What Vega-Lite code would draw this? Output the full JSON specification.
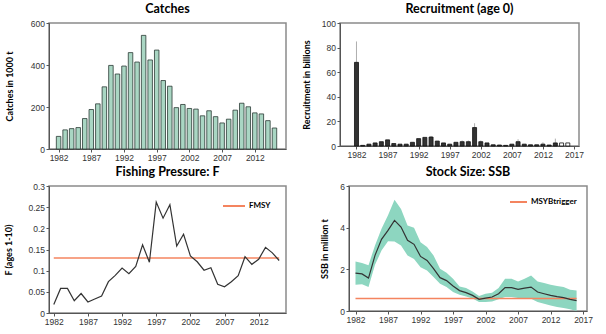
{
  "$schema": "https://vega.github.io/schema/vega-lite/v6.json",
  "padding": {"left": 4, "top": 1, "right": 0, "bottom": 0},
  "background": "white",
  "spacing": 1,
  "resolve": {"scale": {"color": "independent"}, "legend": {"color": "independent"}},
  "config": {
    "view": {"stroke": "#8a8a8a", "strokeWidth": 1.5},
    "title": {"font": "Lato", "fontSize": 12.5, "fontWeight": "bold", "color": "#000", "offset": 0, "anchor": "middle"},
    "axis": {
      "labelFont": "Liberation Sans", "labelFontSize": 8.5, "labelColor": "#333",
      "titleFont": "Lato", "titleFontSize": 9, "titleFontWeight": "bold", "titleColor": "#000",
      "grid": false, "tickSize": 3, "tickColor": "#555", "domainColor": "#555", "labelPadding": 1.5
    },
    "legend": {"labelFont": "Lato", "labelFontWeight": "bold", "labelFontSize": 8, "labelColor": "#000"}
  },
  "datasets": {
    "catches": [
      {"year": 1982, "catch": 60}, {"year": 1983, "catch": 91}, {"year": 1984, "catch": 97}, {"year": 1985, "catch": 102},
      {"year": 1986, "catch": 145}, {"year": 1987, "catch": 188}, {"year": 1988, "catch": 215}, {"year": 1989, "catch": 296},
      {"year": 1990, "catch": 398}, {"year": 1991, "catch": 357}, {"year": 1992, "catch": 395}, {"year": 1993, "catch": 459},
      {"year": 1994, "catch": 414}, {"year": 1995, "catch": 541}, {"year": 1996, "catch": 424}, {"year": 1997, "catch": 471},
      {"year": 1998, "catch": 326}, {"year": 1999, "catch": 299}, {"year": 2000, "catch": 197}, {"year": 2001, "catch": 212},
      {"year": 2002, "catch": 193}, {"year": 2003, "catch": 190}, {"year": 2004, "catch": 158}, {"year": 2005, "catch": 182},
      {"year": 2006, "catch": 154}, {"year": 2007, "catch": 124}, {"year": 2008, "catch": 142}, {"year": 2009, "catch": 185},
      {"year": 2010, "catch": 218}, {"year": 2011, "catch": 201}, {"year": 2012, "catch": 172}, {"year": 2013, "catch": 167},
      {"year": 2014, "catch": 135}, {"year": 2015, "catch": 100}
    ],
    "recruit": [
      {"year": 1982, "rec": 68, "upper": 85, "type": "assessed"},
      {"year": 1983, "rec": 0.5, "type": "assessed"},
      {"year": 1984, "rec": 1.5, "type": "assessed"},
      {"year": 1985, "rec": 2.5, "type": "assessed"},
      {"year": 1986, "rec": 3.5, "type": "assessed"},
      {"year": 1987, "rec": 5, "type": "assessed"},
      {"year": 1988, "rec": 2, "type": "assessed"},
      {"year": 1989, "rec": 1.5, "type": "assessed"},
      {"year": 1990, "rec": 1.5, "type": "assessed"},
      {"year": 1991, "rec": 3, "type": "assessed"},
      {"year": 1992, "rec": 6, "type": "assessed"},
      {"year": 1993, "rec": 7, "type": "assessed"},
      {"year": 1994, "rec": 7.3, "upper": 8.2, "type": "assessed"},
      {"year": 1995, "rec": 4, "type": "assessed"},
      {"year": 1996, "rec": 2.5, "type": "assessed"},
      {"year": 1997, "rec": 1.5, "type": "assessed"},
      {"year": 1998, "rec": 3, "type": "assessed"},
      {"year": 1999, "rec": 3.5, "upper": 4.5, "type": "assessed"},
      {"year": 2000, "rec": 3.5, "upper": 4.5, "type": "assessed"},
      {"year": 2001, "rec": 15, "upper": 18.5, "type": "assessed"},
      {"year": 2002, "rec": 3.5, "upper": 4.5, "type": "assessed"},
      {"year": 2003, "rec": 2.5, "type": "assessed"},
      {"year": 2004, "rec": 1, "type": "assessed"},
      {"year": 2005, "rec": 0.8, "type": "assessed"},
      {"year": 2006, "rec": 0.5, "type": "assessed"},
      {"year": 2007, "rec": 1.5, "type": "assessed"},
      {"year": 2008, "rec": 3.5, "upper": 5.5, "type": "assessed"},
      {"year": 2009, "rec": 1.5, "type": "assessed"},
      {"year": 2010, "rec": 1, "type": "assessed"},
      {"year": 2011, "rec": 1, "type": "assessed"},
      {"year": 2012, "rec": 1.5, "upper": 3, "type": "assessed"},
      {"year": 2013, "rec": 0.8, "type": "assessed"},
      {"year": 2014, "rec": 2.5, "upper": 6, "type": "assessed"},
      {"year": 2015, "rec": 2.5, "type": "assumed"},
      {"year": 2016, "rec": 2.5, "type": "assumed"}
    ],
    "fishing": [
      {"year": 1982, "F": 0.020}, {"year": 1983, "F": 0.058}, {"year": 1984, "F": 0.058}, {"year": 1985, "F": 0.029},
      {"year": 1986, "F": 0.046}, {"year": 1987, "F": 0.026}, {"year": 1988, "F": 0.033}, {"year": 1989, "F": 0.040},
      {"year": 1990, "F": 0.074}, {"year": 1991, "F": 0.089}, {"year": 1992, "F": 0.106}, {"year": 1993, "F": 0.093},
      {"year": 1994, "F": 0.110}, {"year": 1995, "F": 0.161}, {"year": 1996, "F": 0.120}, {"year": 1997, "F": 0.262},
      {"year": 1998, "F": 0.224}, {"year": 1999, "F": 0.256}, {"year": 2000, "F": 0.158}, {"year": 2001, "F": 0.186},
      {"year": 2002, "F": 0.135}, {"year": 2003, "F": 0.121}, {"year": 2004, "F": 0.101}, {"year": 2005, "F": 0.107},
      {"year": 2006, "F": 0.068}, {"year": 2007, "F": 0.062}, {"year": 2008, "F": 0.074}, {"year": 2009, "F": 0.088},
      {"year": 2010, "F": 0.133}, {"year": 2011, "F": 0.115}, {"year": 2012, "F": 0.127}, {"year": 2013, "F": 0.155},
      {"year": 2014, "F": 0.142}, {"year": 2015, "F": 0.124}
    ],
    "fmsy": [
      {"year": 1982, "value": 0.13, "name": "FMSY"},
      {"year": 2015, "value": 0.13, "name": "FMSY"}
    ],
    "ssb": [
      {"year": 1982, "ssb": 1.82, "low": 1.26, "high": 2.38},
      {"year": 1983, "ssb": 1.78, "low": 1.28, "high": 2.3},
      {"year": 1984, "ssb": 1.58, "low": 1.15, "high": 2.2},
      {"year": 1985, "ssb": 2.67, "low": 2.22, "high": 3.15},
      {"year": 1986, "ssb": 3.44, "low": 2.9, "high": 3.95},
      {"year": 1987, "ssb": 3.87, "low": 3.35, "high": 4.6},
      {"year": 1988, "ssb": 4.35, "low": 3.34, "high": 5.34},
      {"year": 1989, "ssb": 4.03, "low": 3.15, "high": 4.9},
      {"year": 1990, "ssb": 3.39, "low": 2.67, "high": 4.1},
      {"year": 1991, "ssb": 3.2, "low": 2.5, "high": 4.0},
      {"year": 1992, "ssb": 2.62, "low": 2.1, "high": 3.3},
      {"year": 1993, "ssb": 2.43, "low": 1.95, "high": 3.07},
      {"year": 1994, "ssb": 2.03, "low": 1.63, "high": 2.67},
      {"year": 1995, "ssb": 1.6, "low": 1.31, "high": 2.03},
      {"year": 1996, "ssb": 1.46, "low": 1.15, "high": 1.84},
      {"year": 1997, "ssb": 1.2, "low": 0.91, "high": 1.55},
      {"year": 1998, "ssb": 0.98, "low": 0.78, "high": 1.18},
      {"year": 1999, "ssb": 0.88, "low": 0.7, "high": 1.1},
      {"year": 2000, "ssb": 0.75, "low": 0.6, "high": 0.94},
      {"year": 2001, "ssb": 0.56, "low": 0.43, "high": 0.72},
      {"year": 2002, "ssb": 0.62, "low": 0.43, "high": 0.83},
      {"year": 2003, "ssb": 0.67, "low": 0.46, "high": 0.88},
      {"year": 2004, "ssb": 0.83, "low": 0.56, "high": 1.1},
      {"year": 2005, "ssb": 1.12, "low": 0.67, "high": 1.55},
      {"year": 2006, "ssb": 1.12, "low": 0.67, "high": 1.55},
      {"year": 2007, "ssb": 1.04, "low": 0.62, "high": 1.42},
      {"year": 2008, "ssb": 1.1, "low": 0.62, "high": 1.55},
      {"year": 2009, "ssb": 1.15, "low": 0.59, "high": 1.71},
      {"year": 2010, "ssb": 0.91, "low": 0.43, "high": 1.42},
      {"year": 2011, "ssb": 0.83, "low": 0.35, "high": 1.34},
      {"year": 2012, "ssb": 0.75, "low": 0.27, "high": 1.26},
      {"year": 2013, "ssb": 0.69, "low": 0.19, "high": 1.2},
      {"year": 2014, "ssb": 0.64, "low": 0.14, "high": 1.15},
      {"year": 2015, "ssb": 0.56, "low": 0.08, "high": 1.02},
      {"year": 2016, "ssb": 0.5, "low": 0.0, "high": 0.99}
    ],
    "msyb": [
      {"year": 1982, "value": 0.6, "name": "MSYBtrigger"},
      {"year": 2016, "value": 0.6, "name": "MSYBtrigger"}
    ]
  },
  "vconcat": [
    {
      "spacing": 14,
      "hconcat": [
        {
          "title": "Catches",
          "width": 237, "height": 126,
          "data": {"name": "catches"},
          "mark": {"type": "bar", "orient": "vertical", "width": 4.5, "fill": "#a9d6c3", "stroke": "#2b3a35", "strokeWidth": 0.8},
          "encoding": {
            "x": {"field": "year", "type": "quantitative", "scale": {"domain": [1981.3, 2016], "nice": false, "zero": false},
                  "axis": {"title": null, "values": [1982, 1987, 1992, 1997, 2002, 2007, 2012], "format": "d"}},
            "y": {"field": "catch", "type": "quantitative", "scale": {"domain": [0, 600], "nice": false},
                  "axis": {"title": "Catches in 1000 t", "values": [0, 200, 400, 600], "titlePadding": 16.3}}
          }
        },
        {
          "title": "Recruitment (age 0)",
          "width": 239, "height": 123,
          "data": {"name": "recruit"},
          "encoding": {
            "x": {"field": "year", "type": "quantitative", "scale": {"domain": [1980.15, 2017], "nice": false, "zero": false},
                  "axis": {"title": null, "values": [1982, 1987, 1992, 1997, 2002, 2007, 2012, 2017], "format": "d"}},
            "y": {"field": "rec", "type": "quantitative", "scale": {"domain": [0, 100], "nice": false},
                  "axis": {"title": "Recruitment in billions", "values": [0, 20, 40, 60, 80, 100], "titlePadding": 10}}
          },
          "layer": [
            {
              "mark": {"type": "rule", "color": "#9a9a9a", "strokeWidth": 0.8},
              "encoding": {
                "y2": {"field": "upper"}
              }
            },
            {
              "mark": {"type": "bar", "orient": "vertical", "width": 4, "stroke": "#111", "strokeWidth": 0.8},
              "encoding": {
                "fill": {"field": "type", "type": "nominal", "scale": {"domain": ["assessed", "assumed"], "range": ["#333333", "#ffffff"]}, "legend": null}
              }
            }
          ]
        }
      ]
    },
    {
      "spacing": 33,
      "resolve": {"scale": {"color": "independent"}, "legend": {"color": "independent"}},
      "hconcat": [
        {
          "title": "Fishing Pressure: F",
          "width": 237, "height": 127,
          "encoding": {
            "x": {"field": "year", "type": "quantitative", "scale": {"domain": [1981.3, 2016], "nice": false, "zero": false},
                  "axis": {"title": null, "values": [1982, 1987, 1992, 1997, 2002, 2007, 2012], "format": "d"}},
            "y": {"type": "quantitative", "scale": {"domain": [0, 0.3], "nice": false},
                  "axis": {"title": "F (ages 1-10)", "values": [0, 0.05, 0.1, 0.15, 0.2, 0.25, 0.3], "format": "~g", "titlePadding": 14}}
          },
          "layer": [
            {
              "data": {"name": "fmsy"},
              "mark": {"type": "line", "strokeWidth": 1.5},
              "encoding": {
                "y": {"field": "value", "type": "quantitative"},
                "color": {"field": "name", "type": "nominal", "scale": {"domain": ["FMSY"], "range": ["#f4845f"]},
                          "legend": {"title": null, "orient": "none", "legendX": 173, "legendY": 8, "symbolType": "stroke", "symbolSize": 484, "symbolStrokeWidth": 2, "labelOffset": 3, "padding": 0}}
              }
            },
            {
              "data": {"name": "fishing"},
              "mark": {"type": "line", "color": "#333333", "strokeWidth": 1.2},
              "encoding": {
                "y": {"field": "F", "type": "quantitative"}
              }
            }
          ]
        },
        {
          "title": "Stock Size: SSB",
          "width": 238, "height": 125,
          "encoding": {
            "x": {"field": "year", "type": "quantitative", "scale": {"domain": [1981, 2017.6], "nice": false, "zero": false},
                  "axis": {"title": null, "values": [1982, 1987, 1992, 1997, 2002, 2007, 2012, 2017], "format": "d"}}
          },
          "layer": [
            {
              "data": {"name": "ssb"},
              "mark": {"type": "area", "color": "#8dd6c0", "opacity": 1},
              "encoding": {
                "y": {"field": "low", "type": "quantitative", "scale": {"domain": [0, 6], "nice": false},
                      "axis": {"title": "SSB in million t", "values": [0, 2, 4, 6], "titlePadding": 10}},
                "y2": {"field": "high"}
              }
            },
            {
              "data": {"name": "msyb"},
              "mark": {"type": "line", "strokeWidth": 1.5},
              "encoding": {
                "y": {"field": "value", "type": "quantitative"},
                "color": {"field": "name", "type": "nominal", "scale": {"domain": ["MSYBtrigger"], "range": ["#f4845f"]},
                          "legend": {"title": null, "orient": "none", "legendX": 160, "legendY": 6.5, "symbolType": "stroke", "symbolSize": 289, "symbolStrokeWidth": 2, "labelOffset": 3, "padding": 0}}
              }
            },
            {
              "data": {"name": "ssb"},
              "mark": {"type": "line", "color": "#333333", "strokeWidth": 1.2},
              "encoding": {
                "y": {"field": "ssb", "type": "quantitative"}
              }
            }
          ]
        }
      ]
    }
  ]
}
